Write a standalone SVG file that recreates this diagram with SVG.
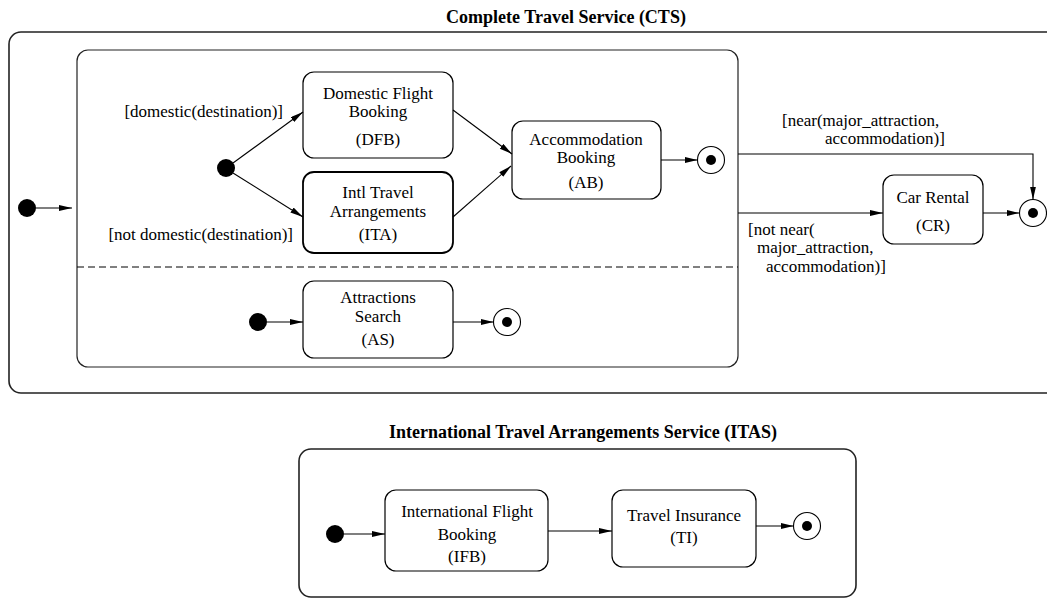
<svg xmlns="http://www.w3.org/2000/svg" width="1047" height="601" viewBox="0 0 1047 601">
<defs>
<marker id="ah" markerUnits="userSpaceOnUse" markerWidth="14" markerHeight="8" refX="13" refY="3" orient="auto">
<path d="M0,0 L13,3 L0,6 z" fill="#000"/>
</marker>
<style>
text{font-family:"Liberation Serif","Times New Roman",serif;font-size:17px;fill:#000}
.t{font-weight:bold;font-size:18px}
.c{text-anchor:middle}
.r{text-anchor:end}
.box{fill:#fff;stroke:#000;stroke-width:1.2}
.frame{fill:none;stroke:#222;stroke-width:1.6}
.region{fill:none;stroke:#222;stroke-width:1.2}
.ini{fill:#000}
.fin{fill:#fff;stroke:#000;stroke-width:1.1}
.e{fill:none;stroke:#000;stroke-width:1.1;marker-end:url(#ah)}
</style>
</defs>
<rect width="1047" height="601" fill="#fff"/>

<g id="CTS">
<rect class="frame" x="9" y="32" width="1060" height="361" rx="12"/>
<text class="t c" x="566" y="23">Complete Travel Service (CTS)</text>
</g>
<g id="CTS-region">
<rect class="region" x="77" y="50" width="661" height="317" rx="11"/>
<line x1="77" y1="267" x2="738" y2="267" stroke="#000" stroke-width="1" stroke-dasharray="7,4"/>
</g>
<g id="ITAS">
<rect class="frame" x="299" y="449" width="557" height="148" rx="12"/>
<text class="t c" x="583" y="438">International Travel Arrangements Service (ITAS)</text>
</g>

<g id="CTS-init"><circle class="ini" cx="27" cy="208" r="9"/></g>
<g id="top-init"><circle class="ini" cx="226" cy="168" r="9"/></g>
<g id="as-init"><circle class="ini" cx="258" cy="322" r="9"/></g>
<g id="itas-init"><circle class="ini" cx="335" cy="534" r="9"/></g>

<g id="DFB">
<rect class="box" x="303" y="72" width="150" height="86" rx="11"/>
<text class="c" x="378" y="99">Domestic Flight</text>
<text class="c" x="378" y="117">Booking</text>
<text class="c" x="378" y="145">(DFB)</text>
</g>
<g id="ITA">
<rect class="box" x="303" y="172" width="150" height="81" rx="11" style="stroke-width:1.8"/>
<text class="c" x="378" y="198">Intl Travel</text>
<text class="c" x="378" y="217">Arrangements</text>
<text class="c" x="378" y="240">(ITA)</text>
</g>
<g id="AB">
<rect class="box" x="512" y="121" width="149" height="78" rx="11"/>
<text class="c" x="586" y="145">Accommodation</text>
<text class="c" x="586" y="163">Booking</text>
<text class="c" x="586" y="188">(AB)</text>
</g>
<g id="AB-final">
<circle class="fin" cx="711" cy="160" r="13.5"/><circle class="ini" cx="711" cy="160" r="5"/>
</g>
<g id="AS">
<rect class="box" x="303" y="281" width="150" height="77" rx="11"/>
<text class="c" x="378" y="303">Attractions</text>
<text class="c" x="378" y="322">Search</text>
<text class="c" x="378" y="345">(AS)</text>
</g>
<g id="AS-final">
<circle class="fin" cx="507" cy="322" r="13.5"/><circle class="ini" cx="507" cy="322" r="5"/>
</g>
<g id="CR">
<rect class="box" x="883" y="175" width="100" height="69" rx="11"/>
<text class="c" x="933" y="203">Car Rental</text>
<text class="c" x="933" y="231">(CR)</text>
</g>
<g id="CTS-final">
<circle class="fin" cx="1033" cy="213" r="13.5"/><circle class="ini" cx="1033" cy="213" r="5"/>
</g>
<g id="IFB">
<rect class="box" x="385" y="490" width="163" height="81" rx="11"/>
<text class="c" x="467" y="517">International Flight</text>
<text class="c" x="467" y="540">Booking</text>
<text class="c" x="467" y="562">(IFB)</text>
</g>
<g id="TI">
<rect class="box" x="612" y="490" width="144" height="77" rx="11"/>
<text class="c" x="684" y="521">Travel Insurance</text>
<text class="c" x="684" y="543">(TI)</text>
</g>
<g id="ITAS-final">
<circle class="fin" cx="807" cy="526" r="13.5"/><circle class="ini" cx="807" cy="526" r="5"/>
</g>

<g id="connectors">
<line class="e" x1="36" y1="208" x2="72" y2="208"/>
<line class="e" x1="233" y1="163" x2="303" y2="112"/>
<line class="e" x1="233" y1="173" x2="303" y2="217"/>
<line class="e" x1="453" y1="110" x2="512" y2="154"/>
<line class="e" x1="453" y1="217" x2="511" y2="166"/>
<line class="e" x1="661" y1="160" x2="697.5" y2="160"/>
<line class="e" x1="267" y1="322" x2="303" y2="322"/>
<line class="e" x1="453" y1="322" x2="493.5" y2="322"/>
<polyline class="e" points="738,154 1033,154 1033,199.5"/>
<line class="e" x1="738" y1="213" x2="883" y2="213"/>
<line class="e" x1="983" y1="213" x2="1019.5" y2="213"/>
<line class="e" x1="344" y1="534" x2="385" y2="534"/>
<line class="e" x1="548" y1="531" x2="612" y2="531"/>
<line class="e" x1="756" y1="526" x2="793.5" y2="526"/>
<text class="r" x="283" y="117">[domestic(destination)]</text>
<text class="r" x="293" y="240">[not domestic(destination)]</text>
<text x="782" y="126">[near(major_attraction,</text>
<text x="825" y="144">accommodation)]</text>
<text x="748" y="235">[not near(</text>
<text x="757" y="253">major_attraction,</text>
<text x="766" y="272">accommodation)]</text>
</g>
</svg>
